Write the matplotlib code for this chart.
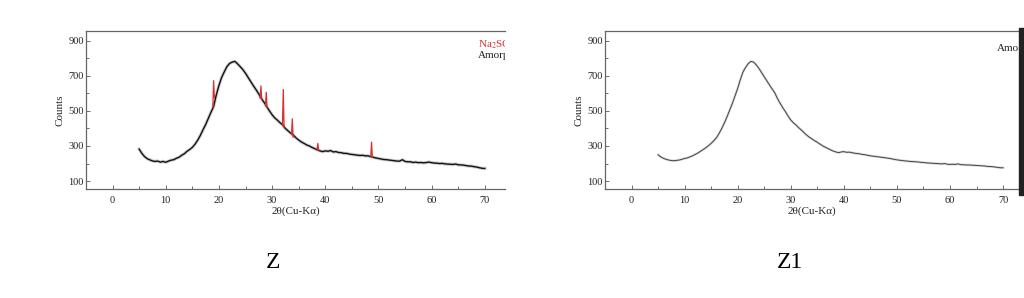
import numpy as np
import matplotlib
matplotlib.use('Agg')
import matplotlib.pyplot as plt
from matplotlib.patches import Rectangle
from matplotlib.ticker import MultipleLocator

plt.rcParams['font.family'] = ['Liberation Serif', 'DejaVu Serif']
plt.rcParams['mathtext.fontset'] = 'stix'

# 2theta grid (degrees) read at 0.5 deg steps
two_theta = np.arange(5.0, 70.01, 0.5)

# sample Z, amorphous hump (counts)
z_counts = [282, 258, 240, 228, 221, 215, 212, 214, 208, 212,
            207, 214, 219, 222, 230, 236, 247, 256, 270, 280,
            292, 310, 333, 360, 392, 422, 457, 492, 525, 590,
            645, 690, 722, 752, 770, 778, 782, 768, 752, 735,
            714, 690, 666, 642, 620, 596, 570, 548, 524, 500,
            478, 460, 447, 432, 420, 400, 386, 373, 362, 346,
            334, 323, 315, 306, 300, 292, 285, 278, 272, 268,
            272, 270, 274, 266, 268, 263, 262, 258, 258, 254,
            252, 250, 248, 246, 247, 244, 244, 240, 236, 232,
            229, 226, 223, 222, 220, 218, 216, 214, 214, 222,
            212, 210, 210, 206, 208, 205, 206, 204, 206, 208,
            205, 203, 202, 200, 201, 198, 197, 196, 195, 197,
            193, 192, 191, 188, 186, 185, 182, 180, 176, 173,
            172]

# Na2SO4 reflections on sample Z
peak_pos = [19.0, 27.9, 28.9, 32.1, 33.8, 38.6, 48.7]
peak_top = [672, 642, 606, 622, 455, 315, 322]
peak_base_left = [520, 572, 528, 420, 365, 280, 240]
peak_base_right = [575, 565, 520, 405, 350, 276, 236]

# sample Z1, amorphous only (counts)
z1_counts = [250, 238, 230, 224, 220, 217, 216, 218, 220, 224,
             229, 232, 238, 244, 252, 260, 270, 280, 290, 302,
             315, 330, 347, 372, 400, 432, 467, 505, 543, 585,
             628, 678, 722, 748, 770, 782, 778, 762, 742, 718,
             695, 670, 647, 625, 602, 570, 543, 518, 495, 470,
             448, 432, 419, 404, 391, 376, 362, 350, 340, 330,
             321, 311, 301, 293, 286, 278, 271, 266, 262, 266,
             268, 264, 265, 262, 259, 257, 255, 252, 250, 247,
             244, 242, 240, 238, 236, 234, 232, 230, 227, 224,
             221, 219, 217, 215, 214, 212, 211, 210, 209, 207,
             206, 204, 203, 202, 201, 200, 199, 198, 200, 196,
             195, 196, 195, 198, 194, 193, 192, 192, 191, 190,
             189, 188, 187, 186, 184, 183, 182, 180, 178, 176,
             176]

y_ticks = [100, 300, 500, 700, 900]
x_ticks = [0, 10, 20, 30, 40, 50, 60, 70]


def style_axes(ax, x_max):
    ax.set_xlim(-5, x_max)
    ax.set_ylim(55, 955)
    ax.set_xticks(x_ticks)
    ax.set_yticks(y_ticks)
    ax.xaxis.set_minor_locator(MultipleLocator(5))
    ax.yaxis.set_minor_locator(MultipleLocator(100))
    ax.tick_params(which='both', direction='in', colors='#555555', labelcolor='#222222',
                   labelsize=7.5, top=False, right=False)
    ax.tick_params(which='major', length=3, width=0.6)
    ax.tick_params(which='minor', length=2, width=0.6)
    ax.tick_params(axis='x', pad=5)
    ax.tick_params(axis='y', pad=1.5)
    for side in ['left', 'top', 'bottom']:
        ax.spines[side].set_color('#666666')
        ax.spines[side].set_linewidth(0.9)
    ax.spines['right'].set_visible(False)
    ax.set_xlabel('2\u03b8(Cu-K\u03b1)', fontsize=8, labelpad=1, color='#222222')
    ax.set_ylabel('Counts', fontsize=8, labelpad=3, color='#222222')


fig = plt.figure(figsize=(10.24, 2.98), dpi=100)

# left panel: Z
ax1 = fig.add_axes([86 / 1024, 1 - 189 / 298, 419 / 1024, 158 / 298])
ax1.plot(two_theta, z_counts, color='#888888', lw=2.4, alpha=0.4, solid_joinstyle='round')
ax1.plot(two_theta, z_counts, color='#111111', lw=1.0)
for i in range(len(peak_pos)):
    ax1.plot([peak_pos[i] - 0.15, peak_pos[i], peak_pos[i] + 0.15],
             [peak_base_left[i], peak_top[i], peak_base_right[i]],
             color='#d83030', lw=0.9)
style_axes(ax1, 73.8)
ax1.text(68.7, 875, 'Na$_2$SO$_4$', color='#e03030', fontsize=8, va='center', clip_on=True)
ax1.text(68.7, 818, 'Amorphous', color='#222222', fontsize=8, va='center', clip_on=True)

# right panel: Z1 (legend is cut by the frame edge, only "Amo" is visible)
ax2 = fig.add_axes([605 / 1024, 1 - 189 / 298, 414 / 1024, 158 / 298])
ax2.plot(two_theta, z1_counts, color='#aaaaaa', lw=1.8, alpha=0.45)
ax2.plot(two_theta, z1_counts, color='#444444', lw=0.7)
style_axes(ax2, 73.0)
ax2.text(68.9, 858, 'Amo', color='#222222', fontsize=8, va='center', clip_on=True)

fig.patches.append(Rectangle((1019 / 1024, 1 - 195 / 298), 5 / 1024, 167 / 298,
                             transform=fig.transFigure, color='#222222', zorder=5))

fig.text(273 / 1024, 1 - 262 / 298, 'Z', fontsize=17, ha='center', va='center')
fig.text(790 / 1024, 1 - 262 / 298, 'Z1', fontsize=17, ha='center', va='center')

fig.savefig('out.png', dpi=100)
